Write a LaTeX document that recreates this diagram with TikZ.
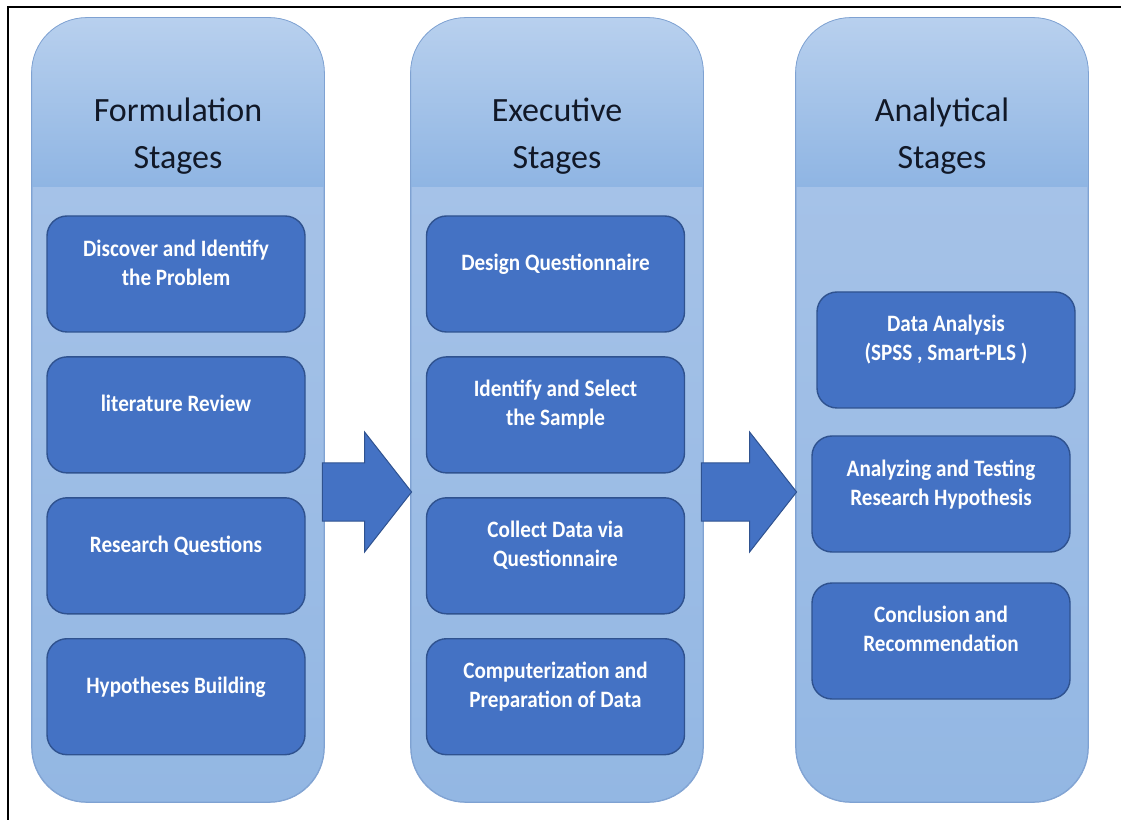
\documentclass[tikz,border=0pt]{standalone}
\usepackage{fontspec}
\setmainfont{Carlito}
\newfontfamily\boxfont[FakeStretch=0.9]{Carlito}
\usetikzlibrary{positioning}

\definecolor{headTop}{HTML}{B8D0EE}
\definecolor{headBot}{HTML}{8FB5E3}
\definecolor{bodyTop}{HTML}{AAC5E9}
\definecolor{bodyBot}{HTML}{93B7E3}
\definecolor{colEdge}{HTML}{7FA2D2}
\definecolor{stepFill}{HTML}{4472C4}
\definecolor{stepEdge}{HTML}{2F528F}
\definecolor{titleInk}{HTML}{111827}

\tikzset{
  stagecol/.style={draw=colEdge,line width=0.8pt,rounded corners=55pt,
    top color=bodyTop,bottom color=bodyBot,
    minimum width=292pt,minimum height=784pt},
  stagetitle/.style={align=center,text=titleInk,font=\fontsize{34}{47}\selectfont},
  stepbox/.style={draw=stepEdge,line width=1.4pt,fill=stepFill,rounded corners=20pt,
    minimum width=258pt,minimum height=116pt,text=white,align=center,
    font=\boxfont\fontsize{23.5}{29}\selectfont\bfseries,text depth=23.5pt},
  bigarrow/.style={fill=stepFill,draw=stepEdge,line width=1pt}
}

\begin{document}
\begin{tikzpicture}[x=1pt,y=1pt]
\useasboundingbox (0,0) rectangle (1121,820);
\draw[line width=2.2pt] (1121,813) -- (8,813) -- (8,0);

% the three stage columns with their shaded headers
\node[stagecol] (formcol) at (178,410) {};
\node[stagecol] (execcol) at (557,410) {};
\node[stagecol] (analcol) at (942,410) {};
\foreach \c/\t in {formcol/Formulation, execcol/Executive, analcol/Analytical}{
  \begin{scope}
    \clip[rounded corners=55pt] (\c.south west) rectangle (\c.north east);
    \shade[top color=headTop,bottom color=headBot]
      (\c.north west) rectangle ([yshift=-169pt]\c.north east);
  \end{scope}
  \draw[colEdge,line width=0.8pt,rounded corners=55pt] (\c.south west) rectangle (\c.north east);
  \node[stagetitle] (\c-title) at ([yshift=-119pt]\c.north) {\t\\Stages};
}

% formulation
\node[stepbox] (f1) at (176,546) {Discover and Identify\\the Problem};
\node[stepbox,below=23.5pt of f1] (f2) {literature Review};
\node[stepbox,below=23.5pt of f2] (f3) {Research Questions};
\node[stepbox,below=23.5pt of f3] (f4) {Hypotheses Building};

% executive
\node[stepbox] (e1) at (555.5,546) {Design Questionnaire};
\node[stepbox,below=23.5pt of e1] (e2) {Identify and Select\\the Sample};
\node[stepbox,below=23.5pt of e2] (e3) {Collect Data via\\Questionnaire};
\node[stepbox,below=23.5pt of e3] (e4) {Computerization and\\Preparation of Data};

% analytical
\node[stepbox] (a1) at (946,470) {Data Analysis\\(SPSS , Smart-PLS )};
\node[stepbox] (a2) at (941,326) {Analyzing and Testing\\Research Hypothesis};
\node[stepbox] (a3) at (941,179) {Conclusion and\\Recommendation};

% block arrows between the columns
\foreach \s/\e in {formcol/execcol, execcol/analcol}{
  \coordinate (tail) at ([shift={(-2pt,-82pt)}]\s.east);
  \coordinate (tip) at ([shift={(1pt,-82pt)}]\e.west);
  \draw[bigarrow] ([yshift=29pt]tail) -- ([shift={(-47pt,29pt)}]tip)
    -- ([shift={(-47pt,60pt)}]tip) -- (tip) -- ([shift={(-47pt,-60pt)}]tip)
    -- ([shift={(-47pt,-29pt)}]tip) -- ([yshift=-29pt]tail) -- cycle;
}
\end{tikzpicture}
\end{document}
